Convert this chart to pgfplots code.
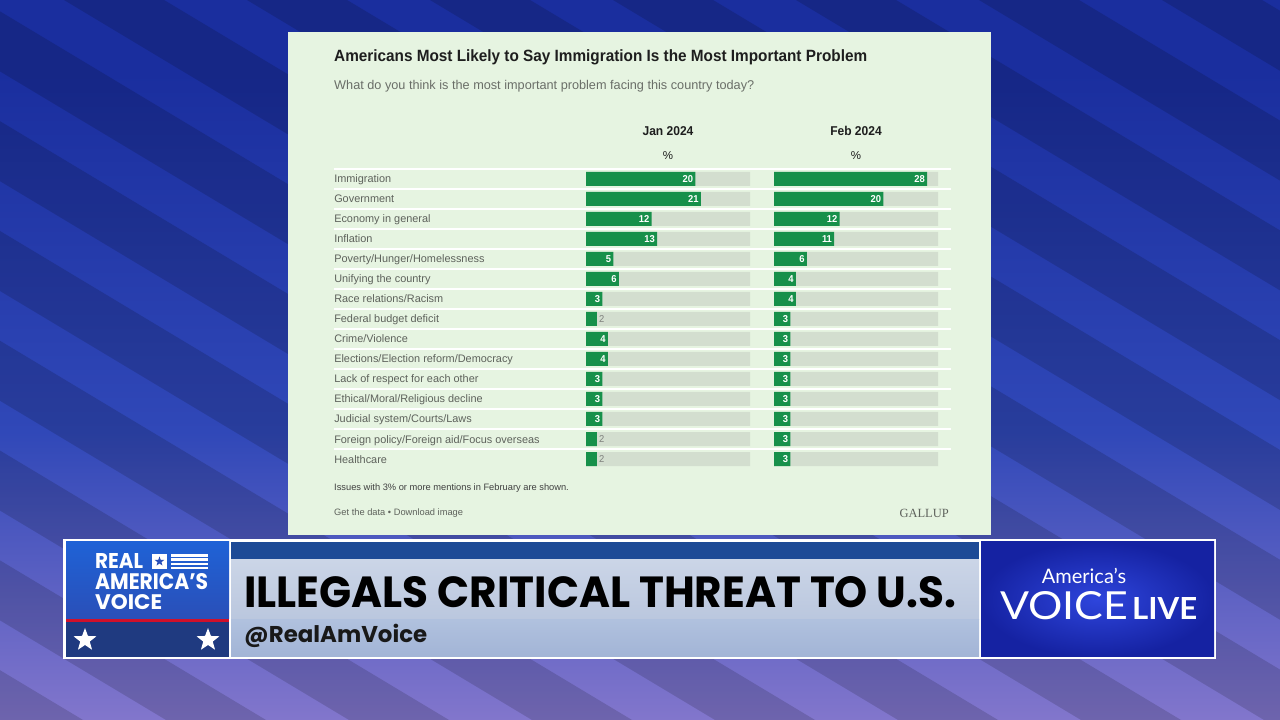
\documentclass[border=0pt]{standalone}
\usepackage{pgfplots}
\pgfplotsset{compat=1.18}
\usepackage{graphicx}
\usepackage{fontspec}
\setmainfont{Liberation Sans}
\newfontfamily\cond{Liberation Sans}[FakeStretch=0.94]
\newfontfamily\gserif{Liberation Serif}
\newfontfamily\pop{Poppins}
\newfontfamily\lato{Lato}
\usetikzlibrary{shapes.geometric}

\definecolor{panel}{HTML}{E6F4E1}
\definecolor{track}{HTML}{D3DECF}
\definecolor{gbar}{HTML}{17904A}
\definecolor{ink}{HTML}{1E1E1E}
\definecolor{lab}{HTML}{5E625C}
\definecolor{sub}{HTML}{6A6E68}
\definecolor{bgA}{HTML}{1A2E9E}
\definecolor{bgB}{HTML}{3048B8}
\definecolor{bgC}{HTML}{8276CC}
\definecolor{bgD}{HTML}{7C86C8}
\definecolor{logoblue}{HTML}{1F62D6}
\definecolor{logoblue2}{HTML}{2A4FB8}
\definecolor{logored}{HTML}{D0102A}
\definecolor{navy}{HTML}{1F3A80}
\definecolor{midtop}{HTML}{1D4A96}
\definecolor{midA}{HTML}{CBD5E7}
\definecolor{midB}{HTML}{BAC7DE}
\definecolor{lowA}{HTML}{B0C1DE}
\definecolor{lowB}{HTML}{A2B4D6}
\definecolor{avlA}{HTML}{2E45DC}
\definecolor{avlB}{HTML}{1522A2}

\pgfdeclareverticalshading{bgsh}{100bp}{color(0bp)=(bgD); color(25bp)=(bgC); color(45bp)=(bgB); color(70bp)=(bgA); color(100bp)=(bgA)}

\pgfplotsset{gstyle/.style={
  xbar, bar width=14pt, bar shift=0pt,
  scale only axis, width=164pt, height=300pt,
  xmin=0, xmax=30, ymin=-0.5, ymax=14.5,
  y dir=reverse, enlargelimits=false, clip=false,
  axis line style={draw=none},
  xtick=\empty, anchor=south west,
  point meta=x,
  /pgf/number format/assume math mode=true}}

\begin{document}
\begin{tikzpicture}
% ---------- background ----------
\shade[shading=bgsh] (0pt,0pt) rectangle (1280pt,720pt);
\begin{scope}[x=1pt,y=-1pt,yshift=720pt]
  \clip (0,0) rectangle (1280,720);
  \foreach \a in {-1300,-1117,...,1500}{
    \fill[black, opacity=0.15] (\a,0) -- ({\a+1200},720) -- ({\a+1100},720) -- ({\a-100},0) -- cycle;
  }
  % ---------- chart panel ----------
  \fill[panel] (288,32) rectangle (991,535);
  \node[anchor=base west, inner sep=0, text=ink, font=\cond\bfseries\fontsize{16.3}{19}\selectfont] at (334,62)
    {Americans Most Likely to Say Immigration Is the Most Important Problem};
  \node[anchor=base west, inner sep=0, text=sub, font=\fontsize{12.7}{15}\selectfont] at (334,90)
    {What do you think is the most important problem facing this country today?};
  \node[anchor=base, inner sep=0, text=ink, font=\cond\bfseries\fontsize{12.8}{14}\selectfont] at (668,136) {Jan 2024};
  \node[anchor=base, inner sep=0, text=ink, font=\cond\bfseries\fontsize{12.8}{14}\selectfont] at (856,136) {Feb 2024};
  \node[anchor=base, inner sep=0, text=ink, font=\fontsize{11.5}{13}\selectfont] at (668,160) {\%};
  \node[anchor=base, inner sep=0, text=ink, font=\fontsize{11.5}{13}\selectfont] at (856,160) {\%};
  \foreach \i in {0,...,14}{
    \draw[white, line width=1.5pt] (334,{169+20*\i}) -- (951,{169+20*\i});
  }
  \node[anchor=base west, inner sep=0, text=ink!85, font=\fontsize{9.3}{11}\selectfont] at (334,491)
    {Issues with 3\% or more mentions in February are shown.};
  \node[anchor=base west, inner sep=0, text=lab, font=\fontsize{9.3}{11}\selectfont] at (334,516)
    {Get the data • Download image};
  \node[anchor=base east, inner sep=0, text=lab, font=\gserif\fontsize{12.5}{14}\selectfont] at (949,518) {GALLUP};
\end{scope}

% ---------- Jan 2024 ----------
\begin{axis}[gstyle, at={(586pt,251pt)},
  ytick={0,...,14}, ytick style={draw=none},
  yticklabels={Immigration, Government, Economy in general, Inflation, Poverty/Hunger/Homelessness, Unifying the country, Race relations/Racism, Federal budget deficit, Crime/Violence, Elections/Election reform/Democracy, Lack of respect for each other, Ethical/Moral/Religious decline, Judicial system/Courts/Laws, Foreign policy/Foreign aid/Focus overseas, Healthcare},
  yticklabel style={anchor=base west, xshift=-251pt, yshift=-4pt, text=lab, font=\fontsize{10.9}{12}\selectfont}]
\addplot[fill=track, draw=none] coordinates {(30,0) (30,1) (30,2) (30,3) (30,4) (30,5) (30,6) (30,7) (30,8) (30,9) (30,10) (30,11) (30,12) (30,13) (30,14)};
\addplot[fill=gbar, draw=none, nodes near coords,
  nodes near coords style={anchor=east, text=white, inner sep=2pt, font=\cond\bfseries\fontsize{10}{10}\selectfont}]
  coordinates {(20,0) (21,1) (12,2) (13,3) (5,4) (6,5) (3,6) (4,8) (4,9) (3,10) (3,11) (3,12)};
\addplot[fill=gbar, draw=none, nodes near coords,
  nodes near coords style={anchor=west, text=lab!80, inner sep=2pt, font=\cond\fontsize{10}{10}\selectfont}]
  coordinates {(2,7) (2,13) (2,14)};
\end{axis}

% ---------- Feb 2024 ----------
\begin{axis}[gstyle, at={(774pt,251pt)}, ytick=\empty]
\addplot[fill=track, draw=none] coordinates {(30,0) (30,1) (30,2) (30,3) (30,4) (30,5) (30,6) (30,7) (30,8) (30,9) (30,10) (30,11) (30,12) (30,13) (30,14)};
\addplot[fill=gbar, draw=none, nodes near coords,
  nodes near coords style={anchor=east, text=white, inner sep=2pt, font=\cond\bfseries\fontsize{10}{10}\selectfont}]
  coordinates {(28,0) (20,1) (12,2) (11,3) (6,4) (4,5) (4,6) (3,7) (3,8) (3,9) (3,10) (3,11) (3,12) (3,13) (3,14)};
\end{axis}

% ---------- lower third banner ----------
\begin{scope}[x=1pt,y=-1pt,yshift=720pt]
  \fill[white] (63,539) rectangle (1216,659);
  % left logo
  \shade[top color=logoblue, bottom color=logoblue2] (66,542) rectangle (229,619);
  \fill[logored] (66,619) rectangle (229,622);
  \fill[navy] (66,622) rectangle (229,657);
  \node[anchor=south west, inner sep=0, text=white] at (95,569) {\resizebox{48pt}{15pt}{\pop\bfseries REAL}};
  \fill[white] (152,554) rectangle (167,569);
  \node[star, star points=5, star point ratio=2.4, fill=logoblue2, minimum size=10pt, inner sep=0] at (159.5,561.5) {};
  \foreach \k in {0,1,2,3}{ \fill[white] (171,{554+4.3*\k}) rectangle (208,{556.6+4.3*\k}); }
  \node[anchor=south west, inner sep=0, text=white] at (95,590) {\resizebox{113pt}{16pt}{\pop\bfseries AMERICA’S}};
  \node[anchor=south west, inner sep=0, text=white] at (95,610) {\resizebox{67pt}{15pt}{\pop\bfseries VOICE}};
  \node[star, star points=5, star point ratio=2.4, fill=white, minimum size=24pt, inner sep=0] at (85,640) {};
  \node[star, star points=5, star point ratio=2.4, fill=white, minimum size=24pt, inner sep=0] at (208,640) {};
  % middle
  \fill[midtop] (231,542) rectangle (979,560);
  \shade[top color=midA, bottom color=midB] (231,560) rectangle (979,620);
  \shade[top color=lowA, bottom color=lowB] (231,620) rectangle (979,657);
  \node[anchor=south west, inner sep=0, text=black] at (244,608) {\resizebox{712pt}{31pt}{\pop\bfseries ILLEGALS CRITICAL THREAT TO U.S.}};
  \node[anchor=south west, inner sep=0, text=black!90] at (244,648) {\resizebox{183pt}{!}{\pop\bfseries @RealAmVoice}};
  % right logo
  \shade[inner color=avlA, outer color=avlB] (981,542) rectangle (1214,657);
  \node[anchor=base, inner sep=0, text=white] at (1084,584) {\lato\fontsize{20}{22}\selectfont America’s};
  \node[anchor=base west, inner sep=0, text=white] at (1000,620) {\resizebox{128pt}{28pt}{\lato VOICE}};
  \node[anchor=base west, inner sep=0, text=white] at (1132,620) {\resizebox{65pt}{22pt}{\lato\bfseries LIVE}};
\end{scope}
\end{tikzpicture}
\end{document}
